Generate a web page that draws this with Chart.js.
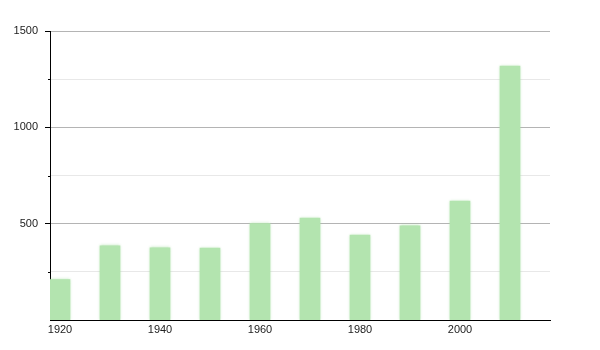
<!DOCTYPE html>
<html>
<head>
<meta charset="utf-8">
<script src="https://cdn.jsdelivr.net/npm/chart.js@4/dist/chart.umd.min.js"></script>
<style>
  html, body { margin: 0; padding: 0; background: #fff; }
  #wrap { width: 600px; height: 350px; }
</style>
</head>
<body>
<div id="wrap"><canvas id="popChart"></canvas></div>
<script>
// 데이터
const years = [1920, 1930, 1940, 1950, 1960, 1970, 1980, 1990, 2000, 2010];
const population = [210, 385, 375, 373, 500, 529, 441, 489, 617, 1318];
const xTickYears = [1920, 1940, 1960, 1980, 2000];
const yTickValues = [250, 500, 750, 1000, 1250, 1500];

const isMajor = (v) => v % 500 === 0;

// 막대 가장자리 흐림 효과
const barGlow = {
  id: "barGlow",
  beforeDatasetsDraw(chart) {
    const ctx = chart.ctx;
    ctx.save();
    ctx.shadowColor = "rgba(160, 220, 155, 0.9)";
    ctx.shadowBlur = 3;
  },
  afterDatasetsDraw(chart) {
    chart.ctx.restore();
  },
};

// 보조 눈금 (짧은 tick)
const minorTicks = {
  id: "minorTicks",
  afterDraw(chart) {
    const ctx = chart.ctx;
    const y = chart.scales.y;
    const left = chart.chartArea.left;
    ctx.save();
    ctx.strokeStyle = "#000";
    ctx.lineWidth = 1;
    yTickValues.filter((v) => !isMajor(v)).forEach((v) => {
      const py = Math.round(y.getPixelForValue(v)) + 0.5;
      ctx.beginPath();
      ctx.moveTo(left - 2, py);
      ctx.lineTo(left, py);
      ctx.stroke();
    });
    ctx.restore();
  },
};

const popChart = new Chart(document.getElementById("popChart"), {
  type: "bar",
  data: {
    datasets: [
      {
        data: years.map((yr, i) => ({ x: yr, y: population[i] })),
        backgroundColor: "#b3e4af",
        borderWidth: 0,
        barThickness: 20,
      },
    ],
  },
  options: {
    responsive: true,
    maintainAspectRatio: false,
    animation: { duration: 0 },
    layout: {
      padding: { top: 31, right: 50, bottom: 0, left: 0 },
    },
    plugins: {
      legend: { display: false },
      tooltip: { enabled: false },
    },
    scales: {
      x: {
        type: "linear",
        min: 1918,
        max: 2018,
        offset: false,
        afterBuildTicks: (scale) => {
          scale.ticks = xTickYears.map((v) => ({ value: v }));
        },
        afterFit: (scale) => {
          scale.height = 30;
        },
        grid: { display: false, drawTicks: false, offset: false },
        border: { display: true, color: "#000", width: 1 },
        ticks: {
          color: "#222",
          font: { family: "Liberation Sans", size: 11 },
          padding: 3,
          maxRotation: 0,
          callback: (v) => String(v),
        },
      },
      y: {
        min: 0,
        max: 1500,
        afterBuildTicks: (scale) => {
          scale.ticks = yTickValues.map((v) => ({ value: v }));
        },
        afterFit: (scale) => {
          scale.width = 50;
        },
        grid: {
          color: (ctx) => (ctx.tick && isMajor(ctx.tick.value) ? "#b4b4b4" : "#e8e8e8"),
          tickColor: (ctx) => (ctx.tick && isMajor(ctx.tick.value) ? "#000" : "rgba(0,0,0,0)"),
          tickLength: 5,
          lineWidth: 1,
        },
        border: { display: true, color: "#000", width: 1 },
        ticks: {
          color: "#222",
          font: { family: "Liberation Sans", size: 11 },
          padding: 7,
          callback: (v) => (isMajor(v) ? String(v) : ""),
        },
      },
    },
  },
  plugins: [barGlow, minorTicks],
});
</script>
</body>
</html>
